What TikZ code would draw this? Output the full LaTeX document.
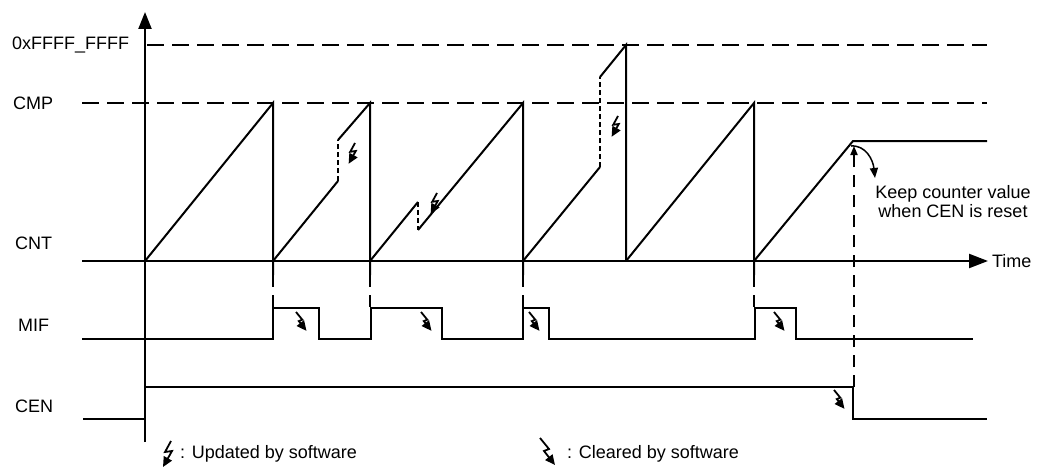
\documentclass[tikz,border=0pt]{standalone}
\usepackage{fontspec}
\setmainfont{Liberation Sans}
\usetikzlibrary{arrows.meta}

\tikzset{
  wave/.style={line width=2pt},
  guide/.style={line width=2pt, dash pattern=on 17pt off 8pt},
  tick/.style={line width=1.8pt, dash pattern=on 12pt off 8pt},
  jump/.style={line width=1.5pt, dash pattern=on 5pt off 3pt},
  sym/.style={line width=1.8pt, -{Triangle[length=10pt,width=9pt]}},
  lbl/.style={anchor=west, inner sep=0pt, font=\fontsize{18}{19}\selectfont},
  updsw/.pic={\draw[sym] (0,0) -- (-6,11) -- (1,10) -- (-8,26);},
  clrsw/.pic={\draw[sym] (0,0) -- (9,11) -- (4,13) -- (15,27);}
}

\begin{document}
\begin{tikzpicture}[x=1pt,y=-1pt]
  \useasboundingbox (0,0) rectangle (1040,468);
  % signal names
  \node[lbl] (lbltop) at (12,45) {0xFFFF\_FFFF};
  \node[lbl] (lblcmp) at (13,103) {CMP};
  \node[lbl] (lblcnt) at (15,243) {CNT};
  \node[lbl] (lblmif) at (18,325) {MIF};
  \node[lbl] (lblcen) at (15,406) {CEN};
  % axes
  \draw[line width=2.2pt, -{Triangle[length=17pt,width=13pt]}] (145,442) -- (145,12);
  \draw[line width=2.2pt, -{Triangle[length=19pt,width=14pt]}] (82,261) -- (988,261)
    node[lbl, right=3pt] (lbltime) {Time};
  % limit levels
  \draw[guide] (147,45) -- (987,45);
  \draw[guide] (82,103) -- (987,103);
  % counter
  \draw[wave] (145,261) -- (273,103) -- (273,275);
  \draw[wave] (273,261) -- (338,181);
  \draw[jump] (338,181) -- (338,140);
  \draw[wave] (338,140) -- (370,103) -- (370,275);
  \draw[wave] (370,261) -- (418,202);
  \draw[jump] (418,202) -- (418,230);
  \draw[wave] (418,230) -- (523,103) -- (523,275);
  \draw[wave] (523,261) -- (600,167);
  \draw[jump] (600,167) -- (600,77);
  \draw[wave] (600,77) -- (626,45) -- (626,261);
  \draw[wave] (626,261) -- (754,103) -- (754,275);
  \draw[wave] (754,261) -- (853,141) -- (987,141);
  % compare match
  \foreach \x in {273,370,523,754} \draw[tick] (\x,275) -- (\x,308);
  \draw[wave] (82,339) -- (273,339) -- (273,308) -- (319,308) -- (319,339)
    -- (371,339) -- (371,308) -- (442,308) -- (442,339)
    -- (523,339) -- (523,308) -- (549,308) -- (549,339)
    -- (755,339) -- (755,308) -- (796,308) -- (796,339) -- (973,339);
  % enable
  \draw[wave] (83,419) -- (145,419) -- (145,387) -- (853,387) -- (853,419) -- (987,419);
  \draw[tick, -{Triangle[length=9pt,width=7pt]}] (854,387) -- (854,146);
  \draw[line width=1.5pt, -{Triangle[length=10pt,width=8pt]}]
    (851,146) .. controls (866,145) and (873,160) .. (875,178);
  \node[lbl, anchor=center, align=center] (note) at (953,202)
    {Keep counter value\\when CEN is reset};
  % software actions
  \foreach \x/\y in {355/143,437/193,618/116} \pic[scale=0.8] at (\x,\y) {updsw};
  \foreach \x/\y in {296/312,421/312,529/312,774/312,834/390} \pic[scale=0.7] at (\x,\y) {clrsw};
  % legend
  \pic at (171,441) {updsw};
  \node[lbl] (legupd) at (180,454) {: Updated by software};
  \pic at (540,438) {clrsw};
  \node[lbl] (legclr) at (567,454) {: Cleared by software};
\end{tikzpicture}
\end{document}
